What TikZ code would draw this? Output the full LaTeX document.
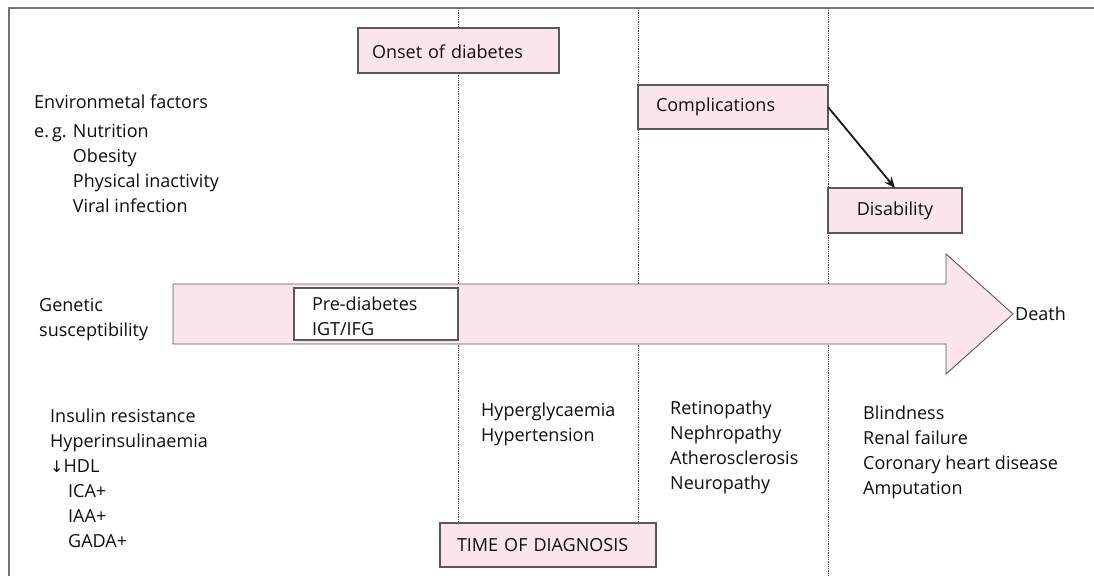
\documentclass[tikz,border=0pt]{standalone}
\usepackage{fontspec}
\setmainfont{Open Sans}
\newfontfamily\symfont{DejaVu Sans}
\usetikzlibrary{arrows.meta}
\definecolor{boxpink}{RGB}{251,229,236}
\definecolor{edgegray}{RGB}{90,90,90}
\definecolor{framegray}{RGB}{115,115,115}
\definecolor{txt}{RGB}{15,15,15}
\newcommand{\rows}[1]{\begin{tabular}[t]{@{}l@{}}#1\end{tabular}}
\begin{document}
\begin{tikzpicture}[x=1pt,y=-1pt,
  every node/.style={font=\fontsize{18}{25}\selectfont, text=txt},
  pinkbox/.style={draw=edgegray, line width=1.2pt, fill=boxpink, anchor=north west,
    inner ysep=0pt, outer sep=0pt, align=left},
  txtblock/.style={inner sep=0pt, anchor=base west},
  divider/.style={densely dotted, line width=0.8pt, draw=black!75},
  framestyle/.style={draw=framegray, line width=1.5pt},
  bodyarrow/.style={draw=edgegray, line width=0.9pt, fill=boxpink, line join=miter},
  link/.style={draw=black!90, line width=1.8pt, -{Stealth[length=11pt,width=9pt]}},
]
\useasboundingbox (0,0) rectangle (1094,576);
\fill[white] (0,0) rectangle (1094,576);

% frame
\coordinate (fl) at (9,576);
\coordinate (ftl) at (9,8);
\coordinate (ftr) at (1094,8);
\draw[framestyle] (fl) -- (ftl) -- (ftr);

% dividers
\coordinate (d1t) at (458,8); \coordinate (d1b) at (458,523);
\coordinate (d2t) at (638,8); \coordinate (d2b) at (638,523);
\coordinate (d3t) at (828,8); \coordinate (d3b) at (828,576);
\draw[divider] (d1t) -- (d1b);
\draw[divider] (d2t) -- (d2b);
\draw[divider] (d3t) -- (d3b);

% big arrow
\coordinate (tip) at (1013,314);
\draw[bodyarrow] (173,284) -- (946,284) -- (946,254) -- (tip) -- (946,374) -- (946,344) -- (173,344) -- cycle;

% boxes
\node[pinkbox, minimum width=201pt, minimum height=45pt, inner xsep=14pt, text width=173pt] (onset) at (358,28) {\rule{0pt}{16pt}Onset of diabetes};
\node[pinkbox, minimum width=190pt, minimum height=44pt, inner xsep=18pt, text width=154pt] (comp) at (638,85) {Complications};
\node[pinkbox, minimum width=134pt, minimum height=45pt, inner xsep=0pt, text width=134pt, align=center] (dis) at (828,188) {Disability};
\node[pinkbox, minimum width=216pt, minimum height=44pt, inner xsep=17pt, text width=182pt] (diag) at (440,523) {TIME OF DIAGNOSIS};
\node[pinkbox, fill=white, minimum width=164pt, minimum height=52pt, inner xsep=18pt, text width=128pt] (pre) at (294,288) {\raisebox{0pt}[22pt][30pt]{\rows{Pre-diabetes\\IGT/IFG}}};

\draw[link] (comp.east) -- (dis.north);

% text blocks
\node[txtblock] (env) at (34,108) {\rows{Environmetal factors\\[4pt]
  e.\,g. Nutrition\\
  \hphantom{e.\,g. }Obesity\\
  \hphantom{e.\,g. }Physical inactivity\\
  \hphantom{e.\,g. }Viral infection}};
\node[txtblock] (gen) at (39,311) {\rows{Genetic\\susceptibility}};
\node[txtblock] (ins) at (50,422) {\rows{Insulin resistance\\
  Hyperinsulinaemia\\
  {\symfont\fontsize{16}{25}\selectfont ↓}HDL\\
  \hspace*{18pt}ICA+\\
  \hspace*{18pt}IAA+\\
  \hspace*{18pt}GADA+}};
\node[txtblock] (hyp) at (481,416) {\rows{Hyperglycaemia\\Hypertension}};
\node[txtblock] (ret) at (670,414) {\rows{Retinopathy\\Nephropathy\\Atherosclerosis\\Neuropathy}};
\node[txtblock] (bli) at (863,419) {\rows{Blindness\\Renal failure\\Coronary heart disease\\Amputation}};
\node[anchor=west, inner sep=2pt] (death) at (tip) {Death};
\end{tikzpicture}
\end{document}
